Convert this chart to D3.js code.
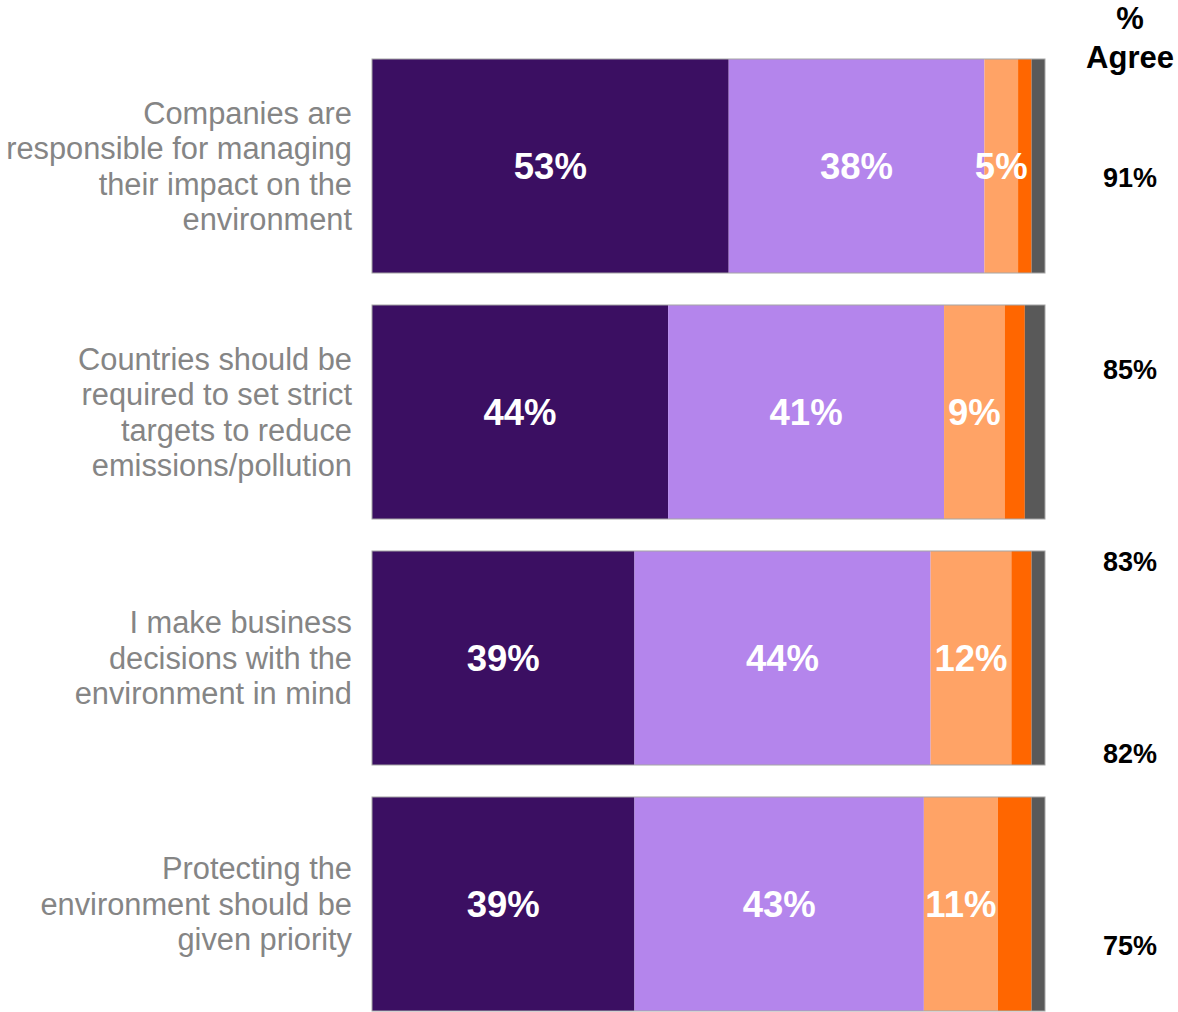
<!DOCTYPE html>
<html>
<head>
<meta charset="utf-8">
<script src="https://cdn.jsdelivr.net/npm/d3@7"></script>
<style>
  html, body { margin: 0; padding: 0; background: #fff; }
  svg { display: block; }
</style>
</head>
<body>
<svg id="chart" width="1178" height="1012"></svg>
<script>
// Statements shown on the left, one bar each
const categories = [
  ["Companies are", "responsible for managing", "their impact on the", "environment"],
  ["Countries should be", "required to set strict", "targets to reduce", "emissions/pollution"],
  ["I make business", "decisions with the", "environment in mind"],
  ["Protecting the", "environment should be", "given priority"]
];

// Response shares per statement (percent)
const stronglyAgree    = [53, 44, 39, 39];
const somewhatAgree    = [38, 41, 44, 43];
const somewhatDisagree = [5, 9, 12, 11];
const stronglyDisagree = [2, 3, 3, 5];
const dontKnow         = [2, 3, 2, 2];

const seriesNames  = ["stronglyAgree", "somewhatAgree", "somewhatDisagree", "stronglyDisagree", "dontKnow"];
const seriesValues = [stronglyAgree, somewhatAgree, somewhatDisagree, stronglyDisagree, dontKnow];
const seriesColors = ["#3b0f62", "#b485ec", "#ffa366", "#ff6600", "#595959"];
const labelledSeries = ["stronglyAgree", "somewhatAgree", "somewhatDisagree"];

// Right-hand "% Agree" column
const agreeHeader = ["%", "Agree"];
const agreeTotals = [91, 85, 83, 82, 75];

const svg = d3.select("#chart");
const font = "'Liberation Sans', Arial, sans-serif";

const keys = categories.map((c, i) => i);
const rows = keys.map(i => {
  const r = { key: i };
  seriesNames.forEach((s, j) => r[s] = seriesValues[j][i]);
  return r;
});
const stacked = d3.stack().keys(seriesNames)(rows);

const x = d3.scaleLinear().domain([0, 100]).range([372, 1045]);
const y = d3.scaleBand().domain(keys).range([59, 1011]).paddingInner(0.13).paddingOuter(0);
const color = d3.scaleOrdinal().domain(seriesNames).range(seriesColors);

// Stacked segments
const layers = svg.append("g").selectAll("g")
  .data(stacked)
  .join("g")
  .attr("fill", d => color(d.key));

layers.selectAll("rect")
  .data(d => d.map(p => ({ p, key: d.key })))
  .join("rect")
  .attr("x", d => x(d.p[0]))
  .attr("y", d => y(d.p.data.key))
  .attr("width", d => x(d.p[1]) - x(d.p[0]))
  .attr("height", y.bandwidth());

// Thin outline around each bar
svg.append("g").selectAll("rect")
  .data(keys)
  .join("rect")
  .attr("x", x(0))
  .attr("y", k => y(k))
  .attr("width", x(100) - x(0))
  .attr("height", y.bandwidth())
  .attr("fill", "none")
  .attr("stroke", "#a6a6a6")
  .attr("stroke-width", 1);

// Value labels inside the larger segments
const labelData = stacked
  .filter(s => labelledSeries.includes(s.key))
  .flatMap(s => s.map(p => ({ p, key: s.key })));

svg.append("g").selectAll("text")
  .data(labelData)
  .join("text")
  .attr("x", d => (x(d.p[0]) + x(d.p[1])) / 2)
  .attr("y", d => y(d.p.data.key) + y.bandwidth() / 2)
  .attr("dy", "0.35em")
  .attr("text-anchor", "middle")
  .attr("fill", "#fff")
  .style("font-family", font)
  .style("font-weight", "bold")
  .style("font-size", "36.5px")
  .text(d => (d.p[1] - d.p[0]) + "%");

// Category labels, right-aligned to the left of the bars
const lineH = 35.5;
const catG = svg.append("g").selectAll("text")
  .data(categories)
  .join("text")
  .attr("text-anchor", "end")
  .attr("fill", "#858585")
  .style("font-family", font)
  .style("font-size", "30.8px");

catG.each(function(lines, i) {
  const cy = y(i) + y.bandwidth() / 2;
  const top = cy - (lines.length - 1) * lineH / 2;
  d3.select(this).selectAll("tspan")
    .data(lines)
    .join("tspan")
    .attr("x", 352)
    .attr("y", (l, j) => top + j * lineH)
    .attr("dy", "0.35em")
    .text(l => l);
});

// "% Agree" header
svg.append("g").selectAll("text")
  .data(agreeHeader)
  .join("text")
  .attr("x", 1130)
  .attr("y", (d, i) => 18 + i * 39)
  .attr("dy", "0.35em")
  .attr("text-anchor", "middle")
  .attr("fill", "#000")
  .style("font-family", font)
  .style("font-weight", "bold")
  .style("font-size", "31px")
  .text(d => d);

// "% Agree" values
const yAgree = d3.scalePoint().domain(d3.range(agreeTotals.length)).range([178, 946]);
svg.append("g").selectAll("text")
  .data(agreeTotals)
  .join("text")
  .attr("x", 1130)
  .attr("y", (d, i) => yAgree(i))
  .attr("dy", "0.35em")
  .attr("text-anchor", "middle")
  .attr("fill", "#000")
  .style("font-family", font)
  .style("font-weight", "bold")
  .style("font-size", "27px")
  .text(d => d + "%");
</script>
</body>
</html>
